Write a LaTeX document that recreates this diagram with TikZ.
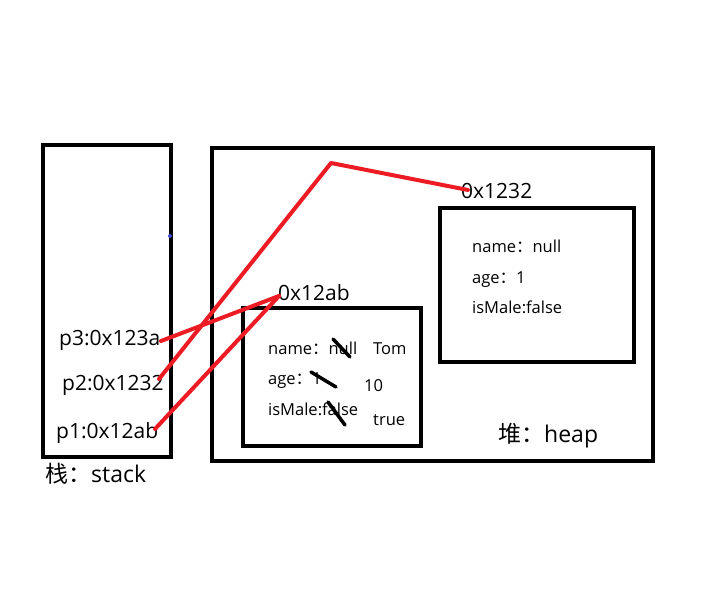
\documentclass[tikz,border=0pt]{standalone}
\usepackage{fontspec}
\setmainfont{Open Sans}
\newfontfamily\cjk{Noto Sans CJK SC}
\definecolor{pred}{RGB}{237,28,36}
\definecolor{pblue}{RGB}{63,72,204}
\tikzset{
  box/.style={draw=black,line width=4.5pt},
  ptr/.style={draw=pred,line width=4pt,line cap=round,line join=round},
  strike/.style={draw=black,line width=3.5pt,line cap=round},
  big/.style={font=\fontsize{21}{23}\selectfont,inner sep=0pt,anchor=base west},
  huge/.style={font=\fontsize{23}{25}\selectfont,inner sep=0pt,anchor=base west},
  small/.style={font=\fontsize{16.5}{18}\selectfont,inner sep=0pt,anchor=base west}
}
\begin{document}
\begin{tikzpicture}[x=1pt,y=-1pt]
\useasboundingbox[fill=white] (0,0) rectangle (710,599);
% boxes
\draw[box] (43,145) rectangle (171,457);
\draw[box] (212,148) rectangle (653,461);
\draw[box] (440,208) rectangle (634,362);
\draw[box] (243,308) rectangle (421,446);
\fill[pblue] (170,236) circle (2);
% stack labels
\node[big] (p3) at (59,345) {p3:0x123a};
\node[big] (p2) at (62,390) {p2:0x1232};
\node[big] (p1) at (56,438) {p1:0x12ab};
\node[huge] (stack) at (45,482) {{\cjk 栈：}stack};
\node[huge] (heap) at (498,442) {{\cjk 堆：}heap};
% addresses
\node[big] (a2) at (461,198) {0x1232};
\node[big] (a1) at (278,300) {0x12ab};
% object 2
\node[small] (n2) at (472,252) {name{\cjk ：}null};
\node[small] (g2) at (472,283) {age{\cjk ：}1};
\node[small] (m2) at (472,313) {isMale:false};
% object 1
\node[small] (n1) at (268,354) {name{\cjk ：}null};
\node[small] (t1) at (373,354) {Tom};
\node[small] (g1) at (268,384) {age{\cjk ：}1};
\node[small] (v1) at (364,391) {10};
\node[small] (m1) at (268,415) {isMale:false};
\node[small] (b1) at (373,425) {true};
% strikes
\draw[strike] (333,339) -- (350,357);
\draw[strike] (311,372) -- (336,387);
\draw[strike] (328,402) -- (345,425);
% pointers
\coordinate (s3) at (161,341);
\coordinate (s2) at (159,379);
\coordinate (s1) at (155,429);
\coordinate (e1) at (279,296);
\coordinate (e2) at (468,190);
\coordinate (bend) at (331,163);
\draw[ptr] (s3) -- (e1);
\draw[ptr] (s1) -- (e1);
\draw[ptr] (s2) -- (bend) -- (e2);
\end{tikzpicture}
\end{document}
